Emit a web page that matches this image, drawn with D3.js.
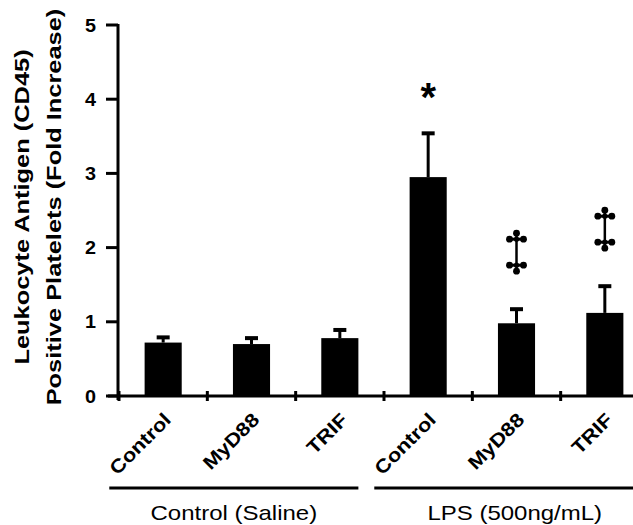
<!DOCTYPE html>
<html>
<head>
<meta charset="utf-8">
<script src="https://cdn.jsdelivr.net/npm/d3@7"></script>
<style>
  html, body { margin: 0; padding: 0; background: #fff; }
  svg { display: block; font-family: "Liberation Sans", Arial, sans-serif; }
</style>
</head>
<body>
<div id="chart"></div>
<script>
// data
const categories = ['Control', 'MyD88', 'TRIF', 'Control', 'MyD88', 'TRIF'];
const means = [0.72, 0.70, 0.78, 2.95, 0.98, 1.12];
const errors = [0.07, 0.08, 0.11, 0.59, 0.19, 0.36];
const marks = ['', '', '', '*', '\u2021', '\u2021'];
const groupNames = ['Control (Saline)', 'LPS (500ng/mL)'];
const groupMembers = [[0, 1, 2], [3, 4, 5]];
const yTicks = [0, 1, 2, 3, 4, 5];
const yTitle = ['Leukocyte Antigen (CD45)', 'Positive Platelets (Fold Increase)'];

const width = 633, height = 525;
const axisW = 3;

const svg = d3.select('#chart').append('svg')
  .attr('width', width)
  .attr('height', height);

const x = d3.scaleBand()
  .domain(d3.range(categories.length))
  .range([119, 649])
  .paddingInner(0.58)
  .paddingOuter(0.29);
const bw = x.bandwidth();
const step = x.step();

const y = d3.scaleLinear().domain([0, 5]).range([396, 25]);

// bars
svg.append('g').selectAll('rect')
  .data(means)
  .enter().append('rect')
  .attr('x', (d, i) => x(i))
  .attr('y', d => y(d))
  .attr('width', bw)
  .attr('height', d => y(0) - y(d))
  .style('fill', '#000');

// error bars (upper only)
let eb = svg.append('g').selectAll('g')
  .data(means)
  .enter().append('g')
  .style('stroke', '#000');
eb.append('line')
  .attr('x1', (d, i) => x(i) + bw / 2)
  .attr('x2', (d, i) => x(i) + bw / 2)
  .attr('y1', d => y(d))
  .attr('y2', (d, i) => y(d + errors[i]))
  .style('stroke-width', 3);
eb.append('line')
  .attr('x1', (d, i) => x(i) + bw / 2 - 6.5)
  .attr('x2', (d, i) => x(i) + bw / 2 + 6.5)
  .attr('y1', (d, i) => y(d + errors[i]))
  .attr('y2', (d, i) => y(d + errors[i]))
  .style('stroke-width', 4);

// significance marks
function drawDagger(g) {
  // double dagger with round ends, centred on 0,0
  g.append('title').text('\u2021');
  g.append('line').attr('x1', 0).attr('x2', 0).attr('y1', -19).attr('y2', 19)
    .style('stroke', '#000').style('stroke-width', 2.5);
  [-13, 13].forEach(cy => {
    g.append('line').attr('x1', -7).attr('x2', 7).attr('y1', cy).attr('y2', cy)
      .style('stroke', '#000').style('stroke-width', 3);
    [[-7, cy], [7, cy], [0, cy + (cy < 0 ? -6 : 6)]].forEach(p => {
      g.append('circle').attr('cx', p[0]).attr('cy', p[1]).attr('r', 3.4).style('fill', '#000');
    });
    g.append('circle').attr('cx', 0).attr('cy', cy).attr('r', 2.6).style('fill', '#000');
  });
}
marks.forEach((m, i) => {
  if (!m) return;
  let cx = x(i) + bw / 2;
  let top = y(means[i] + errors[i]);
  if (m === '*') {
    svg.append('text')
      .attr('x', cx)
      .attr('y', top - 22)
      .attr('text-anchor', 'middle')
      .style('font-size', '40px')
      .style('font-weight', 'bold')
      .text(m);
  } else {
    let g = svg.append('g').attr('transform', 'translate(' + cx + ',' + (top - 57) + ')');
    drawDagger(g);
  }
});

// y axis
const yAxis = svg.append('g');
yAxis.append('line')
  .attr('x1', 118).attr('x2', 118)
  .attr('y1', y(5) - 1).attr('y2', y(0) + 4)
  .style('stroke', '#000').style('stroke-width', axisW);
yAxis.selectAll('.tick')
  .data(yTicks)
  .enter().append('line')
  .attr('x1', 106).attr('x2', 118)
  .attr('y1', d => y(d)).attr('y2', d => y(d))
  .style('stroke', '#000').style('stroke-width', axisW);
yAxis.selectAll('text')
  .data(yTicks)
  .enter().append('text')
  .attr('transform', d => 'translate(96,' + (y(d) + 6.5) + ') scale(1.1,1)')
  .attr('text-anchor', 'end')
  .style('font-size', '18px')
  .style('font-weight', 'bold')
  .text(d => d);

// y title, two lines
const titleX = [29, 61];
yTitle.forEach((t, i) => {
  svg.append('text')
    .attr('transform', 'translate(' + titleX[i] + ',207) rotate(-90) scale(1.27,1)')
    .attr('text-anchor', 'middle')
    .style('font-size', '20px')
    .style('font-weight', 'bold')
    .text(t);
});

// x axis
const xAxis = svg.append('g');
xAxis.append('line')
  .attr('x1', 108).attr('x2', width)
  .attr('y1', y(0)).attr('y2', y(0))
  .style('stroke', '#000').style('stroke-width', axisW);
xAxis.selectAll('.tick')
  .data(d3.range(categories.length + 1))
  .enter().append('line')
  .attr('x1', i => 119 + i * step).attr('x2', i => 119 + i * step)
  .attr('y1', y(0) - 5).attr('y2', y(0) + 5)
  .style('stroke', '#000').style('stroke-width', axisW);
xAxis.selectAll('text')
  .data(categories)
  .enter().append('text')
  .attr('transform', (d, i) => 'translate(' + (x(i) + bw / 2 + 9) + ',421) rotate(-45) scale(1.15,1)')
  .attr('text-anchor', 'end')
  .style('font-size', '19px')
  .style('font-weight', 'bold')
  .text(d => d);

// group brackets
groupMembers.forEach((mem, gi) => {
  let first = mem[0], last = mem[mem.length - 1];
  let x0 = x(first) - 0.4 * step;
  let x1 = x(last) + bw + (gi === groupMembers.length - 1 ? 0.36 * step : 0);
  svg.append('line')
    .attr('x1', x0).attr('x2', x1)
    .attr('y1', 488).attr('y2', 488)
    .style('stroke', '#000').style('stroke-width', 3);
  svg.append('text')
    .attr('transform', 'translate(' + ((x0 + x1) / 2) + ',520) scale(1.2,1)')
    .attr('text-anchor', 'middle')
    .style('font-size', '20px')
    .text(groupNames[gi]);
});
</script>
</body>
</html>
